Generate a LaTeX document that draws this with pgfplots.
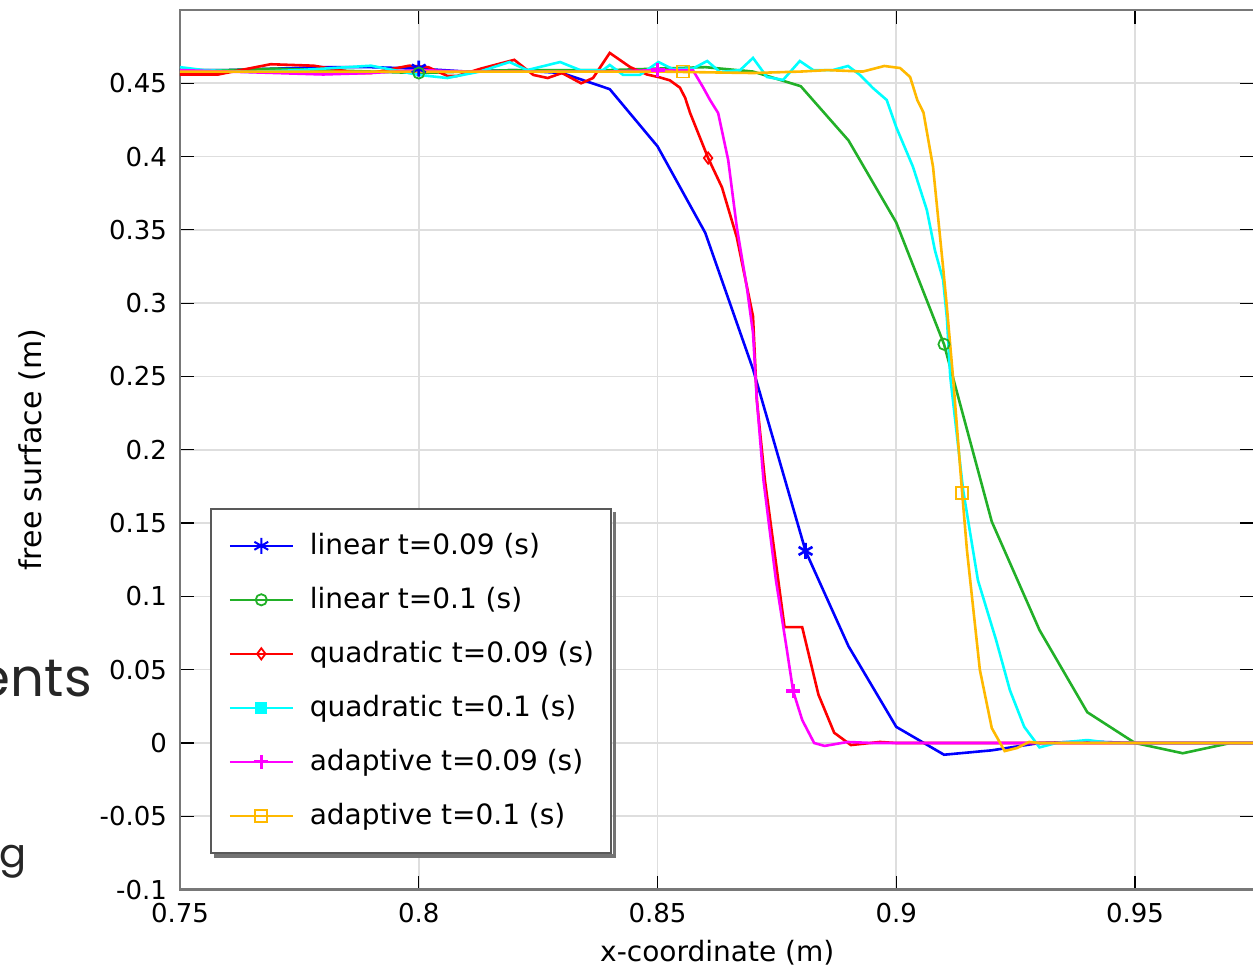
\documentclass[border=0pt]{standalone}
\usepackage{fontspec}
\setmainfont{DejaVu Sans}
\newfontfamily\slidefont{Poppins}
\usepackage{pgfplots}
\pgfplotsset{compat=1.18}
\usetikzlibrary{calc}

\definecolor{cBlue}{RGB}{0,0,255}
\definecolor{cGreen}{RGB}{34,176,40}
\definecolor{cRed}{RGB}{255,0,0}
\definecolor{cCyan}{RGB}{0,255,255}
\definecolor{cMag}{RGB}{255,0,255}
\definecolor{cYel}{RGB}{255,185,0}
\definecolor{frameGray}{RGB}{120,120,120}

\begin{document}
\begin{tikzpicture}
\begin{axis}[
  scale only axis, width=537.2bp, height=439.8bp,
  xmin=0.75, xmax=0.975, ymin=-0.1, ymax=0.5,
  xtick={0.75,0.8,0.85,0.9,0.95},
  ytick={-0.1,-0.05,0,0.05,0.1,0.15,0.2,0.25,0.3,0.35,0.4,0.45},
  /pgf/number format/.cd, fixed, precision=2, assume math mode=true, /pgfplots/.cd,
  tick label style={font=\fontsize{13bp}{15bp}\selectfont},
  xticklabel style={yshift=-3.5bp},
  yticklabel style={xshift=-3bp},
  tick align=inside, major tick length=7bp,
  tick style={black, line width=0.6bp},
  axis line style={frameGray, line width=1.3bp},
  grid=major, major grid style={black!13, line width=0.8bp},
  xlabel={x-coordinate (m)}, ylabel={free surface (m)},
  label style={font=\fontsize{14bp}{16bp}\selectfont},
  xlabel style={at={(axis description cs:0.5,0)}, anchor=center, yshift=-31.7bp},
  ylabel style={at={(axis description cs:0,0.5)}, anchor=center, yshift=74bp,
    font=\fontsize{15bp}{17bp}\selectfont},
  clip=false,
  legend cell align=left,
  legend style={name=leg, at={(rel axis cs:0,0)}, anchor=south west, xshift=15bp, yshift=18bp,
    draw=black!65, line width=0.8bp, fill=white,
    inner xsep=6.5bp, inner ysep=10bp, row sep=10bp,
    font=\fontsize{14bp}{16bp}\selectfont,
    nodes={text height=11bp, text depth=2bp, inner sep=2bp}},
  legend image code/.code={
    \draw[#1, mark repeat=2, mark phase=2] plot coordinates {(2.5bp,0bp) (18.25bp,0bp) (34bp,0bp)};
    \path (0bp,0bp) (40bp,0bp);},
  every axis plot/.append style={line width=1.3bp},
]
\coordinate (bl) at (rel axis cs:0,0);
\coordinate (tr) at (rel axis cs:1,1);

% linear t=0.09
\addplot[cBlue, forget plot] coordinates {
(0.75,0.459)(0.76,0.459)(0.77,0.460)(0.78,0.461)(0.79,0.461)(0.80,0.460)(0.81,0.458)
(0.82,0.459)(0.83,0.457)(0.84,0.446)(0.85,0.407)(0.86,0.348)(0.87,0.255)(0.881,0.131)
(0.89,0.066)(0.90,0.011)(0.91,-0.008)(0.92,-0.005)(0.93,0.000)(0.94,0.001)(0.95,0.000)
(0.96,0.000)(0.975,0.000)};
% linear t=0.1
\addplot[cGreen, forget plot] coordinates {
(0.75,0.459)(0.76,0.459)(0.77,0.460)(0.78,0.459)(0.79,0.458)(0.80,0.457)(0.81,0.458)
(0.82,0.459)(0.83,0.459)(0.84,0.459)(0.85,0.460)(0.86,0.461)(0.87,0.458)(0.88,0.448)
(0.89,0.411)(0.90,0.355)(0.91,0.272)(0.92,0.151)(0.93,0.077)(0.94,0.021)(0.95,0.000)
(0.96,-0.007)(0.97,0.000)(0.975,0.000)};
% quadratic t=0.09
\addplot[cRed, forget plot] coordinates {
(0.75,0.456)(0.758,0.456)(0.769,0.463)(0.778,0.462)(0.787,0.457)(0.790,0.457)(0.798,0.462)
(0.802,0.461)(0.806,0.455)(0.808,0.455)(0.813,0.460)(0.820,0.466)(0.824,0.4557)(0.827,0.4536)
(0.830,0.457)(0.834,0.450)(0.8365,0.4536)(0.840,0.4707)(0.8443,0.461)(0.8478,0.456)
(0.8505,0.454)(0.8526,0.452)(0.8547,0.447)(0.8558,0.440)(0.8568,0.430)(0.8606,0.399)
(0.8635,0.379)(0.8666,0.345)(0.870,0.291)(0.8708,0.234)(0.8725,0.179)(0.8766,0.079)
(0.8803,0.079)(0.8837,0.033)(0.887,0.007)(0.8905,-0.0014)(0.8966,0.0007)(0.90,0.0)(0.975,0.0)};
% quadratic t=0.1
\addplot[cCyan, forget plot] coordinates {
(0.75,0.461)(0.755,0.459)(0.765,0.4577)(0.775,0.459)(0.79,0.462)(0.80,0.4557)(0.806,0.4536)
(0.8128,0.458)(0.819,0.4645)(0.8227,0.459)(0.8296,0.4645)(0.8338,0.459)(0.8386,0.459)
(0.840,0.4625)(0.8428,0.4557)(0.8463,0.4557)(0.8502,0.4645)(0.8532,0.4597)(0.8574,0.460)
(0.8604,0.4652)(0.8631,0.4577)(0.8673,0.459)(0.870,0.4673)(0.8729,0.4543)(0.8763,0.4523)
(0.8798,0.4652)(0.8826,0.459)(0.8867,0.459)(0.8899,0.4618)(0.8924,0.4557)(0.8951,0.4468)
(0.898,0.4386)(0.900,0.420)(0.9035,0.393)(0.9064,0.3636)(0.9081,0.336)(0.9098,0.316)
(0.9106,0.290)(0.9113,0.250)(0.914,0.1726)(0.9171,0.111)(0.9209,0.0703)(0.9238,0.036)
(0.9268,0.011)(0.930,-0.003)(0.9335,0.0)(0.940,0.002)(0.945,0.0)(0.975,0.0)};
% adaptive t=0.09
\addplot[cMag, forget plot] coordinates {
(0.75,0.459)(0.76,0.458)(0.77,0.457)(0.78,0.456)(0.79,0.457)(0.80,0.459)(0.81,0.458)
(0.82,0.458)(0.83,0.458)(0.84,0.458)(0.85,0.459)(0.8574,0.459)(0.8595,0.4475)(0.861,0.4386)
(0.8627,0.4297)(0.8648,0.3977)(0.8666,0.352)(0.8687,0.311)(0.870,0.2797)(0.8708,0.234)
(0.8722,0.179)(0.8748,0.111)(0.877,0.0655)(0.8784,0.0355)(0.8803,0.0157)(0.8828,0.0)
(0.885,-0.002)(0.8898,0.0007)(0.895,0.0)(0.975,0.0)};
% adaptive t=0.1
\addplot[cYel, forget plot] coordinates {
(0.75,0.458)(0.80,0.458)(0.85,0.458)(0.86,0.4575)(0.87,0.457)(0.88,0.458)(0.8856,0.459)
(0.893,0.458)(0.8975,0.4618)(0.9008,0.4604)(0.9029,0.4543)(0.9044,0.4386)(0.9057,0.430)
(0.9077,0.393)(0.9098,0.3247)(0.9106,0.2974)(0.9119,0.249)(0.9138,0.1705)(0.9148,0.1316)
(0.9175,0.050)(0.920,0.0102)(0.9227,-0.0055)(0.9253,-0.0034)(0.9278,0.0007)(0.93,0.0)(0.975,0.0)};

% markers
\addplot[cBlue, only marks, mark=asterisk, mark size=4bp, forget plot] coordinates {(0.80,0.460)(0.881,0.131)};
\addplot[cGreen, only marks, mark=o, mark size=2.8bp, line width=0.9bp, forget plot] coordinates {(0.80,0.457)(0.91,0.272)};
\addplot[cRed, only marks, mark=diamond, mark size=2.8bp, line width=0.9bp, forget plot] coordinates {(0.8606,0.399)};
\addplot[cMag, only marks, mark=+, mark size=3.5bp, line width=1.6bp, forget plot] coordinates {(0.85,0.459)(0.8784,0.0355)};
\addplot[cYel, only marks, mark=square, mark size=3bp, line width=0.9bp, forget plot] coordinates {(0.8553,0.458)(0.9138,0.1705)};

\addlegendimage{cBlue, line width=1bp, mark=asterisk, mark size=4bp}
\addlegendentry{linear t=0.09 (s)}
\addlegendimage{cGreen, line width=1bp, mark=o, mark size=2.8bp, mark options={line width=0.9bp}}
\addlegendentry{linear t=0.1 (s)}
\addlegendimage{cRed, line width=1bp, mark=diamond, mark size=2.8bp, mark options={line width=0.9bp}}
\addlegendentry{quadratic t=0.09 (s)}
\addlegendimage{cCyan, line width=1bp, mark=square*, mark size=2.4bp}
\addlegendentry{quadratic t=0.1 (s)}
\addlegendimage{cMag, line width=1bp, mark=+, mark size=3.5bp, mark options={line width=1.6bp}}
\addlegendentry{adaptive t=0.09 (s)}
\addlegendimage{cYel, line width=1bp, mark=square, mark size=3bp, mark options={line width=0.9bp}}
\addlegendentry{adaptive t=0.1 (s)}

% slide text cut off at the left edge
\node[anchor=base east, inner sep=0, text=black!85, font=\slidefont\fontsize{26.5bp}{30bp}\selectfont] at (axis cs:0.7316,0.0314) {ents};
\node[anchor=base east, inner sep=0, text=black!85, font=\slidefont\fontsize{20bp}{24bp}\selectfont] at (axis cs:0.718,-0.0846) {g};
\end{axis}
% legend shadow along its right and bottom edges
\draw[black!55, line width=1.6bp]
  ($(leg.north east)+(1.2bp,-2bp)$) -- ($(leg.south east)+(1.2bp,-1.2bp)$) -- ($(leg.south west)+(2bp,-1.2bp)$);
\pgfresetboundingbox
\useasboundingbox ($(bl)+(-90bp,-40.7bp)$) rectangle ($(tr)+(-0.7bp,5bp)$);
\end{tikzpicture}
\end{document}
